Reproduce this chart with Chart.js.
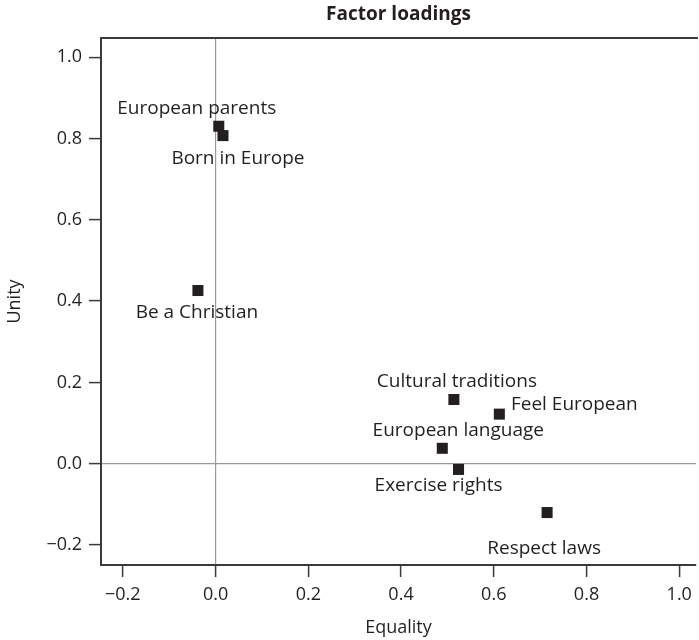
<!DOCTYPE html>
<html>
<head>
<meta charset="utf-8">
<script src="https://cdn.jsdelivr.net/npm/chart.js@4/dist/chart.umd.min.js"></script>
<style>
  html, body { margin: 0; padding: 0; background: #fff; overflow: hidden; }
  canvas { display: block; }
</style>
</head>
<body>
<canvas id="c" width="699" height="640"></canvas>
<script>
// ---- data ----
const items = ["European parents", "Born in Europe", "Be a Christian", "Cultural traditions",
               "Feel European", "European language", "Exercise rights", "Respect laws"];
const equality = [0.007, 0.016, -0.038, 0.514, 0.612, 0.489, 0.524, 0.715];
const unity    = [0.830, 0.807, 0.426, 0.158, 0.122, 0.038, -0.014, -0.120];
const xTicks = [-0.2, 0.0, 0.2, 0.4, 0.6, 0.8, 1.0];
const yTicks = [-0.2, 0.0, 0.2, 0.4, 0.6, 0.8, 1.0];
const titleText = "Factor loadings";
const xTitle = "Equality";
const yTitle = "Unity";

// ---- styles (label offsets in pixels) ----
const labelOffsets = [[-22, -18], [15, 23], [-1, 22], [3, -18], [75, -10], [16, -18], [-20, 16], [-3, 36]];
const FONT = "'Open Sans', 'Noto Sans', sans-serif";
const INK = '#231f20';

const fmt = v => (v < 0 ? '\u2212' : '') + Math.abs(v).toFixed(1);

const framePlugin = {
  id: 'frame',
  afterDraw(chart) {
    const { ctx, chartArea: a } = chart;
    ctx.save();
    ctx.strokeStyle = '#3a3a3a';
    ctx.lineWidth = 2;
    ctx.beginPath();
    ctx.moveTo(a.left - 1, a.top);
    ctx.lineTo(a.right + 2, a.top);
    ctx.stroke();
    ctx.restore();
  }
};

const labelPlugin = {
  id: 'pointLabels',
  afterDatasetsDraw(chart) {
    const { ctx } = chart;
    const meta = chart.getDatasetMeta(0);
    ctx.save();
    ctx.font = "19px " + FONT;
    ctx.fillStyle = INK;
    ctx.textAlign = 'center';
    ctx.textBaseline = 'middle';
    meta.data.forEach((pt, i) => {
      const [dx, dy] = labelOffsets[i];
      ctx.fillText(items[i], pt.x + dx, pt.y + dy);
    });
    ctx.restore();
  }
};

new Chart(document.getElementById('c'), {
  type: 'scatter',
  data: {
    datasets: [{
      data: equality.map((x, i) => ({ x: x, y: unity[i] })),
      pointStyle: 'rect',
      pointRadius: 7.8,
      pointHoverRadius: 7.8,
      backgroundColor: INK,
      borderColor: INK,
      borderWidth: 0
    }]
  },
  options: {
    responsive: false,
    animation: false,
    devicePixelRatio: 1,
    layout: { padding: 0, autoPadding: false },
    plugins: {
      legend: { display: false },
      tooltip: { enabled: false },
      title: {
        display: true,
        text: titleText,
        fullSize: false,
        color: INK,
        font: { family: FONT, size: 19, weight: 'bold', lineHeight: 1.2 },
        padding: { top: 3, bottom: 12.2 }
      }
    },
    scales: {
      x: {
        type: 'linear',
        min: -0.247,
        max: 1.036,
        afterBuildTicks: s => { s.ticks = xTicks.map(v => ({ value: v })); },
        afterFit: s => { s.height = 75; },
        ticks: {
          callback: v => fmt(v),
          color: INK,
          font: { family: FONT, size: 18 },
          padding: 7,
          maxRotation: 0,
          autoSkip: false
        },
        grid: {
          drawOnChartArea: true,
          drawTicks: true,
          tickLength: 12,
          tickColor: '#3a3a3a',
          tickWidth: 1.5,
          color: c => (c.tick && c.tick.value === 0) ? '#9a9a9a' : 'rgba(0,0,0,0)',
          lineWidth: 1.2
        },
        border: { display: true, color: '#3a3a3a', width: 2 },
        title: {
          display: true,
          text: xTitle,
          color: INK,
          font: { family: FONT, size: 18, lineHeight: 1.2 },
          padding: { top: 0, bottom: 1 }
        }
      },
      y: {
        type: 'linear',
        min: -0.249,
        max: 1.047,
        afterBuildTicks: s => { s.ticks = yTicks.map(v => ({ value: v })); },
        afterFit: s => { s.width = 101; },
        ticks: {
          callback: v => fmt(v),
          color: INK,
          font: { family: FONT, size: 18 },
          padding: 7,
          autoSkip: false
        },
        grid: {
          drawOnChartArea: true,
          drawTicks: true,
          tickLength: 12,
          tickColor: '#3a3a3a',
          tickWidth: 1.5,
          color: c => (c.tick && c.tick.value === 0) ? '#9a9a9a' : 'rgba(0,0,0,0)',
          lineWidth: 1.2
        },
        border: { display: true, color: '#3a3a3a', width: 2 },
        title: {
          display: true,
          text: yTitle,
          color: INK,
          font: { family: FONT, size: 18, lineHeight: 1.2 },
          padding: { top: 4, bottom: 0 }
        }
      }
    }
  },
  plugins: [framePlugin, labelPlugin]
});
</script>
</body>
</html>
